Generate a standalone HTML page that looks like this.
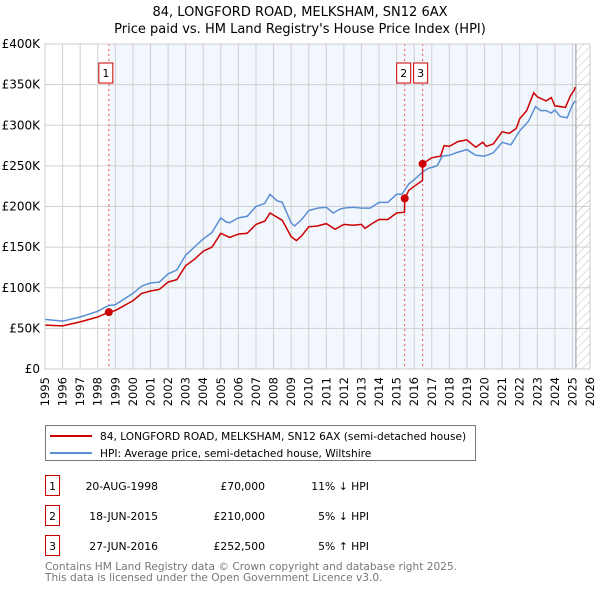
<!DOCTYPE html>
<html><head><meta charset="utf-8"><style>
body{margin:0;background:#fff;font-family:"DejaVu Sans","Liberation Sans",sans-serif;}
svg text{font-family:"DejaVu Sans","Liberation Sans",sans-serif;}
</style></head><body>
<svg id="c" width="600" height="590" xmlns="http://www.w3.org/2000/svg">
<defs><pattern id="hatch" width="6" height="6" patternUnits="userSpaceOnUse" patternTransform="rotate(45)"><line x1="0" y1="0" x2="0" y2="6" stroke="#bbb" stroke-width="1"/></pattern></defs>
<text x="300" y="16" text-anchor="middle" font-size="13">84, LONGFORD ROAD, MELKSHAM, SN12 6AX</text>
<text x="300" y="33" text-anchor="middle" font-size="13">Price paid vs. HM Land Registry's House Price Index (HPI)</text>
<g id="plot"></g>
<g>
<rect x="45.5" y="425.5" width="430" height="35" fill="#fff" stroke="#777"/>
<line x1="50" y1="436" x2="92" y2="436" stroke="#cc0000" stroke-width="2"/>
<text x="100" y="440" font-size="10.6">84, LONGFORD ROAD, MELKSHAM, SN12 6AX (semi-detached house)</text>
<line x1="50" y1="453" x2="92" y2="453" stroke="#5b8fd4" stroke-width="2"/>
<text x="100" y="457" font-size="10.6">HPI: Average price, semi-detached house, Wiltshire</text>
</g>
<g font-size="10.8">
<rect x="45.5" y="475.5" width="14" height="20" fill="#fff" stroke="#cc0000"/><text x="52.5" y="490" text-anchor="middle">1</text>
<text x="158" y="490" text-anchor="end">20-AUG-1998</text><text x="265" y="490" text-anchor="end">£70,000</text><text x="369" y="490" text-anchor="end">11% ↓ HPI</text>
<rect x="45.5" y="505.5" width="14" height="20" fill="#fff" stroke="#cc0000"/><text x="52.5" y="520" text-anchor="middle">2</text>
<text x="158" y="520" text-anchor="end">18-JUN-2015</text><text x="265" y="520" text-anchor="end">£210,000</text><text x="369" y="520" text-anchor="end">5% ↓ HPI</text>
<rect x="45.5" y="535.5" width="14" height="20" fill="#fff" stroke="#cc0000"/><text x="52.5" y="550" text-anchor="middle">3</text>
<text x="158" y="550" text-anchor="end">27-JUN-2016</text><text x="265" y="550" text-anchor="end">£252,500</text><text x="369" y="550" text-anchor="end">5% ↑ HPI</text>
</g>
<text x="45" y="570" font-size="10.6" fill="#777">Contains HM Land Registry data © Crown copyright and database right 2025.</text>
<text x="45" y="581" font-size="10.6" fill="#777">This data is licensed under the Open Government Licence v3.0.</text>
</svg>
<script>
const hpiYears=[1995,1996,1997,1998,1998.6,1999,2000,2000.5,2001,2001.5,2002,2002.5,2003,2003.5,2004,2004.5,2005,2005.3,2005.5,2006,2006.5,2007,2007.5,2007.8,2008.2,2008.5,2009,2009.2,2009.6,2010,2010.5,2011,2011.4,2011.8,2012,2012.5,2013,2013.5,2014,2014.5,2015,2015.3,2015.7,2016,2016.5,2016.8,2017,2017.3,2017.6,2018,2018.5,2019,2019.5,2020,2020.5,2021,2021.5,2022,2022.5,2022.9,2023.2,2023.5,2023.8,2024,2024.3,2024.7,2025,2025.15];
const hpiValues=[61,59,64,71,78,79,93,102,106,107,117,122,140,150,160,168,186,181,180,186,188,200,204,215,207,205,180,176,184,195,198,199,192,197,198,199,198,198,205,205,215,215,228,233,243,247,248,250,262,263,267,270,263,262,266,279,276,293,305,323,318,318,315,319,311,309,325,330];
const propYears=[1995,1996,1997,1998,1998.63,1999,2000,2000.5,2001,2001.5,2002,2002.5,2003,2003.5,2004,2004.5,2005,2005.5,2006,2006.5,2007,2007.5,2007.8,2008.5,2009,2009.3,2009.6,2010,2010.5,2011,2011.5,2012,2012.5,2013,2013.2,2013.6,2014,2014.5,2015,2015.45,2015.46,2015.7,2016.2,2016.47,2016.48,2017,2017.5,2017.7,2018,2018.5,2019,2019.5,2019.9,2020.1,2020.5,2021,2021.4,2021.8,2022,2022.4,2022.8,2023,2023.5,2023.8,2024,2024.6,2024.9,2025.1,2025.15];
const propValues=[54,53,58,64,70,72,84,93,96,98,107,110,127,135,145,150,167,162,166,167,178,182,192,183,163,158,164,175,176,179,172,178,177,178,173,179,184,184,192,193,210,220,228,232,252.5,260,262,275,274,280,282,273,279,274,277,292,290,296,308,318,340,335,330,334,324,322,337,343,347];
const saleYears=[1998.63,2015.46,2016.48];
const saleValues=[70,210,252.5];
const saleLabels=["1","2","3"];
const yTicks=[0,50,100,150,200,250,300,350,400];
const yTickLabels=["£0","£50K","£100K","£150K","£200K","£250K","£300K","£350K","£400K"];
const xTicks=[];for(let y=1995;y<=2026;y++)xTicks.push(y);
const L=45,R=590,T=44,B=369,Y0=1995,Y1=2026,dataEnd=2025.2;
const xs=v=>L+(v-Y0)/(Y1-Y0)*(R-L);
const ys=v=>B-v/400*(B-T);
const NS="http://www.w3.org/2000/svg";
const g=document.getElementById('plot');
function mk(t,a){const e=document.createElementNS(NS,t);for(const k in a)e.setAttribute(k,a[k]);g.appendChild(e);return e;}
let e;
e=mk('rect',{x:xs(saleYears[0]),y:T,width:xs(dataEnd)-xs(saleYears[0]),height:B-T,fill:'#f2f6fd'});


e=mk('rect',{x:xs(dataEnd),y:T,width:R-xs(dataEnd),height:B-T,fill:'url(#hatch)'});


xTicks.forEach(y=>{const x=xs(y);
e=mk('line',{x1:x,y1:T,x2:x,y2:B,stroke:'#d0d0d0','stroke-width':1});


e=mk('text',{x:0,y:0,transform:`translate(${x+4},${B+8}) rotate(-90)`,'text-anchor':'end','font-size':11.5});
e.textContent=y;


});
yTicks.forEach((v,i)=>{const y=ys(v);
e=mk('line',{x1:L,y1:y,x2:R,y2:y,stroke:'#d0d0d0','stroke-width':1});


e=mk('text',{x:L-5,y:y+4,'text-anchor':'end','font-size':12});
e.textContent=yTickLabels[i];


});
e=mk('line',{x1:xs(dataEnd),y1:T,x2:xs(dataEnd),y2:B,stroke:'#999','stroke-width':1});


saleYears.forEach((s,i)=>{const x=xs(s);
e=mk('line',{x1:x,y1:T,x2:x,y2:B,stroke:'#ee5555','stroke-width':1,'stroke-dasharray':'2,3'});


});
function path(xv,yv){return xv.map((v,i)=>(i?'L':'M')+xs(v).toFixed(1)+','+ys(yv[i]).toFixed(1)).join('');}
e=mk('path',{d:path(hpiYears,hpiValues),fill:'none',stroke:'#5b8fd4','stroke-width':1.5});


e=mk('path',{d:path(propYears,propValues),fill:'none',stroke:'#cc0000','stroke-width':1.5});


saleYears.forEach((s,i)=>{
e=mk('circle',{cx:xs(s),cy:ys(saleValues[i]),r:4,fill:'#cc0000'});


});
const boxOff=[-3,-1,-2];
saleLabels.forEach((lab,i)=>{const cx=xs(saleYears[i])+boxOff[i];
e=mk('rect',{x:cx-7,y:63,width:14,height:20,fill:'#fff',stroke:'#cc0000'});


e=mk('text',{x:cx,y:77,'text-anchor':'middle','font-size':11});
e.textContent=lab;


});
e=mk('rect',{x:L,y:T,width:R-L,height:B-T,fill:'none',stroke:'#ccc'});


</script>
</body></html>
